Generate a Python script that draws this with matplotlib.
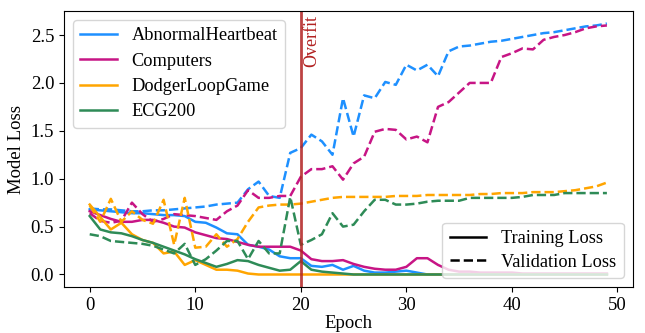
import matplotlib
matplotlib.use("Agg")
import matplotlib.pyplot as plt
from matplotlib.lines import Line2D
import numpy as np

plt.rcParams['font.family'] = ['Liberation Serif', 'DejaVu Serif']
plt.rcParams['mathtext.fontset'] = 'stix'

epochs = list(range(50))

datasets = ["AbnormalHeartbeat", "Computers", "DodgerLoopGame", "ECG200"]
colors = ["#1E90FF", "#C71585", "#FFA500", "#2E8B57"]

abnormal_train = [0.68, 0.67, 0.66, 0.65, 0.64, 0.64, 0.63, 0.62, 0.62, 0.61,
                  0.55, 0.54, 0.49, 0.43, 0.42, 0.31, 0.29, 0.26, 0.19, 0.17,
                  0.17, 0.09, 0.08, 0.10, 0.05, 0.09, 0.04, 0.02, 0.02, 0.03,
                  0.04, 0.02, 0.00, 0.00, 0.00, 0.00, 0.00, 0.00, 0.00, 0.00,
                  0.00, 0.00, 0.00, 0.00, 0.00, 0.00, 0.00, 0.00, 0.00, 0.00]
abnormal_val = [0.69, 0.68, 0.68, 0.67, 0.66, 0.66, 0.67, 0.67, 0.68, 0.69,
                0.70, 0.71, 0.73, 0.74, 0.75, 0.89, 0.97, 0.82, 0.80, 1.27,
                1.32, 1.46, 1.39, 1.25, 1.84, 1.44, 1.87, 1.84, 2.01, 1.98,
                2.19, 2.13, 2.19, 2.07, 2.33, 2.38, 2.39, 2.41, 2.43, 2.44,
                2.46, 2.48, 2.50, 2.52, 2.53, 2.55, 2.57, 2.59, 2.60, 2.62]

computers_train = [0.66, 0.62, 0.58, 0.55, 0.55, 0.57, 0.57, 0.54, 0.50, 0.49,
                   0.44, 0.41, 0.38, 0.37, 0.34, 0.31, 0.29, 0.29, 0.29, 0.29,
                   0.25, 0.16, 0.14, 0.14, 0.15, 0.11, 0.08, 0.06, 0.05, 0.05,
                   0.08, 0.17, 0.17, 0.10, 0.05, 0.03, 0.03, 0.02, 0.02, 0.02,
                   0.02, 0.01, 0.01, 0.01, 0.01, 0.01, 0.01, 0.01, 0.01, 0.01]
computers_val = [0.64, 0.56, 0.54, 0.56, 0.75, 0.63, 0.55, 0.58, 0.63, 0.62,
                 0.61, 0.59, 0.57, 0.66, 0.72, 0.88, 0.80, 0.80, 0.82, 0.82,
                 1.02, 1.10, 1.10, 1.13, 0.99, 1.16, 1.23, 1.49, 1.52, 1.51,
                 1.41, 1.44, 1.38, 1.75, 1.80, 1.90, 2.00, 2.00, 2.00, 2.27,
                 2.31, 2.36, 2.35, 2.45, 2.48, 2.50, 2.53, 2.57, 2.59, 2.60]

dodger_train = [0.73, 0.60, 0.47, 0.54, 0.42, 0.36, 0.33, 0.22, 0.24, 0.10,
                0.15, 0.10, 0.05, 0.05, 0.04, 0.01, 0.00, 0.00, 0.00, 0.00,
                0.00, 0.00, 0.00, 0.00, 0.00, 0.00, 0.00, 0.00, 0.00, 0.00,
                0.00, 0.00, 0.00, 0.00, 0.00, 0.00, 0.00, 0.00, 0.00, 0.00,
                0.00, 0.00, 0.00, 0.00, 0.00, 0.00, 0.00, 0.00, 0.00, 0.00]
dodger_val = [0.72, 0.55, 0.79, 0.55, 0.66, 0.57, 0.53, 0.78, 0.31, 0.80,
              0.28, 0.29, 0.42, 0.29, 0.37, 0.55, 0.70, 0.72, 0.73, 0.73,
              0.74, 0.76, 0.78, 0.80, 0.81, 0.81, 0.81, 0.81, 0.81, 0.82,
              0.82, 0.82, 0.83, 0.83, 0.83, 0.83, 0.83, 0.84, 0.84, 0.85,
              0.85, 0.85, 0.86, 0.86, 0.86, 0.87, 0.88, 0.90, 0.92, 0.96]

ecg_train = [0.61, 0.47, 0.44, 0.43, 0.40, 0.36, 0.33, 0.29, 0.25, 0.21,
             0.16, 0.12, 0.08, 0.11, 0.15, 0.14, 0.10, 0.07, 0.04, 0.05,
             0.14, 0.05, 0.03, 0.02, 0.01, 0.00, 0.00, 0.00, 0.00, 0.00,
             0.00, 0.00, 0.00, 0.00, 0.00, 0.00, 0.00, 0.00, 0.00, 0.00,
             0.00, 0.00, 0.00, 0.00, 0.00, 0.00, 0.00, 0.00, 0.00, 0.00]
ecg_val = [0.42, 0.40, 0.35, 0.34, 0.33, 0.32, 0.30, 0.26, 0.22, 0.32,
           0.10, 0.16, 0.25, 0.35, 0.35, 0.16, 0.35, 0.22, 0.22, 0.81,
           0.31, 0.36, 0.42, 0.64, 0.50, 0.52, 0.66, 0.78, 0.78, 0.73,
           0.73, 0.74, 0.76, 0.77, 0.77, 0.77, 0.80, 0.80, 0.80, 0.80,
           0.80, 0.81, 0.83, 0.83, 0.83, 0.85, 0.85, 0.85, 0.85, 0.85]

train_series = [abnormal_train, computers_train, dodger_train, ecg_train]
val_series = [abnormal_val, computers_val, dodger_val, ecg_val]

overfit_epoch = 20

fig = plt.figure(figsize=(6.45, 3.33), dpi=100)
ax = fig.add_axes([0.099, 0.138, 0.882, 0.829])

handles = []
for name, c, tr, va in zip(datasets, colors, train_series, val_series):
    h, = ax.plot(epochs, tr, color=c, lw=1.8, label=name)
    ax.plot(epochs, va, color=c, lw=1.8, ls='--')
    handles.append(h)

ax.axvline(overfit_epoch, color='#B22222', lw=2, alpha=0.85)
ax.text(overfit_epoch + 0.25, 2.71, "Overfit", rotation=90, color='#B22222',
        fontsize=13, ha='left', va='top')

ax.set_xlabel("Epoch", fontsize=13.5, labelpad=1)
ax.set_ylabel("Model Loss", fontsize=13.5, labelpad=4)
ax.tick_params(labelsize=13.5)
ax.set_xticks([0, 10, 20, 30, 40, 50])
ax.set_yticks([0.0, 0.5, 1.0, 1.5, 2.0, 2.5])

leg1 = ax.legend(handles=handles, loc='upper left', fontsize=13.2,
                 labelspacing=0.45)
ax.add_artist(leg1)
style_handles = [Line2D([], [], color='black', lw=1.8, ls='-'),
                 Line2D([], [], color='black', lw=1.8, ls='--')]
ax.legend(style_handles, ["Training Loss", "Validation Loss"],
          loc='lower right', fontsize=13.2, labelspacing=0.35)

fig.savefig("out.png", dpi=100)
